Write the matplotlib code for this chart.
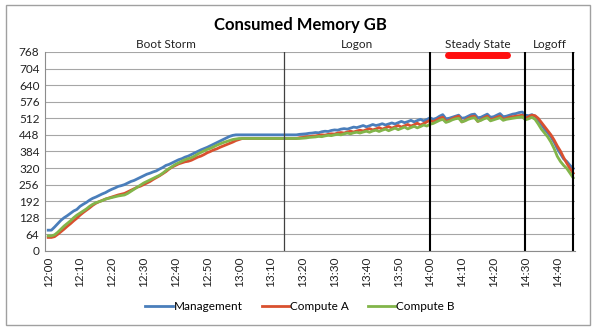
#Consumed Memory GB - line chart, one point per minute from 12:00
import matplotlib
matplotlib.use('Agg')
import matplotlib.pyplot as plt
from matplotlib.lines import Line2D
from matplotlib.patches import Rectangle
import numpy as np

plt.rcParams['font.family'] = ['Lato', 'DejaVu Sans']

management = [80,80,92,105,118,128,136,145,154,160,
              172,180,187,196,203,208,214,220,225,232,
              238,243,249,252,256,262,268,272,278,284,
              290,296,300,305,309,316,322,330,334,340,
              346,352,356,362,366,372,378,384,390,395,
              400,406,412,418,424,430,436,442,446,448,
              448,448,448,448,448,448,448,448,448,448,
              448,448,448,448,448,448,448,448,448,450,
              451,452,454,455,457,456,460,462,461,465,
              467,466,470,472,470,474,478,476,480,484,
              479,483,488,484,487,491,486,490,494,490,
              495,500,495,499,504,498,503,508,502,507,
              514,508,512,520,526,510,512,516,520,524,
              512,514,520,526,528,514,516,522,528,516,
              518,524,530,518,520,524,528,530,534,536,
              524,522,526,520,505,488,470,456,440,420,
              395,375,355,345,330,318]
compute_a = [52,52,55,64,74,84,95,105,116,126,
             138,148,157,166,176,184,190,195,200,204,
             208,212,216,219,222,228,234,240,246,250,
             256,262,268,276,283,290,298,306,316,324,
             330,336,340,344,346,350,356,362,366,372,
             379,384,390,394,400,405,410,415,420,426,
             430,434,434,434,434,434,434,434,434,434,
             434,434,434,434,434,434,434,434,434,437,
             438,440,441,443,444,446,448,447,450,452,
             451,455,457,455,459,462,459,463,466,463,
             468,472,467,471,476,470,475,480,474,479,
             484,478,483,488,482,487,493,486,492,498,
             504,498,505,512,516,500,504,510,516,520,
             498,504,512,518,520,500,506,514,520,506,
             510,516,520,508,512,516,518,520,522,524,
             512,518,524,522,512,496,480,464,448,428,
             405,385,360,338,318,300]
compute_b = [58,58,62,72,84,96,106,116,128,138,
             146,154,162,172,180,186,190,194,200,203,
             206,209,212,214,216,222,230,238,246,254,
             262,268,274,280,286,292,300,310,318,326,
             334,340,346,352,356,360,366,374,380,386,
             392,396,402,408,413,418,422,426,430,432,
             434,434,434,434,434,434,434,434,434,434,
             434,434,434,434,434,434,434,434,434,434,
             435,436,438,439,440,442,441,444,446,445,
             448,450,448,452,455,452,456,458,455,459,
             462,458,463,466,461,466,470,464,469,474,
             468,473,478,471,476,481,475,480,486,482,
             489,492,498,504,508,496,500,506,510,512,
             498,502,508,512,514,500,504,510,514,502,
             506,510,514,504,508,510,512,514,516,518,
             506,510,516,508,490,470,455,440,420,395,
             365,345,330,318,300,282]
tick_labels = ['12:00','12:10','12:20','12:30','12:40','12:50','13:00','13:10',
               '13:20','13:30','13:40','13:50','14:00','14:10','14:20','14:30','14:40']
phases = ['Boot Storm','Logon','Steady State','Logoff']
phase_edges = [0,74,120,150,165]  # minutes after 12:00

minutes = np.arange(len(management))

fig = plt.figure(figsize=(6,3.31), dpi=100)
ax = fig.add_axes([0.075,0.242,0.883,0.601])

ax.plot(minutes, management, color='#4a7ebb', lw=2, label='Management')
ax.plot(minutes, compute_a, color='#d9502f', lw=2, label='Compute A')
ax.plot(minutes, compute_b, color='#82b54a', lw=2, label='Compute B')

ax.set_xlim(-1, 165.5)
ax.set_ylim(0, 768)
ax.set_yticks(np.arange(0, 769, 64))
ax.set_xticks(np.arange(0, 161, 10))
ax.set_xticklabels(tick_labels, rotation=90)
ax.tick_params(axis='both', length=0, labelsize=8.5, colors='#222222', pad=4)
ax.yaxis.grid(True, color='#a6a6a6', lw=0.8)
ax.set_axisbelow(True)
for s in ['top','right']:
    ax.spines[s].set_visible(False)
ax.spines['left'].set_color('#8c8c8c')
ax.spines['bottom'].set_color('#8c8c8c')

# phase separators and labels
ax.axvline(phase_edges[1], color='#404040', lw=0.9)
for e in phase_edges[2:]:
    ax.axvline(e, color='black', lw=1.5)
for i, p in enumerate(phases):
    mid = (max(phase_edges[i], -1) + phase_edges[i+1]) / 2
    ax.text(mid, 775, p, ha='center', va='bottom', fontsize=8.5, color='#222222')

fig.text(0.5, 0.925, 'Consumed Memory GB', ha='center', va='center',
         fontsize=12, fontweight='bold')

# red marker under "Steady State"
fig.add_artist(Line2D([448/600, 507/600], [1-55/331, 1-55/331], color='#ff1010',
                      lw=5, solid_capstyle='round'))

fig.legend(loc='center', bbox_to_anchor=(0.5, 0.073), ncol=3, frameon=False,
           fontsize=8.5, handlelength=2.3, columnspacing=1.6, handletextpad=0.1)

fig.add_artist(Rectangle((0.01, 0.018), 0.973, 0.967, transform=fig.transFigure,
                         fill=False, edgecolor='#a0a0a0', lw=1))

plt.savefig('out.png', dpi=100)
